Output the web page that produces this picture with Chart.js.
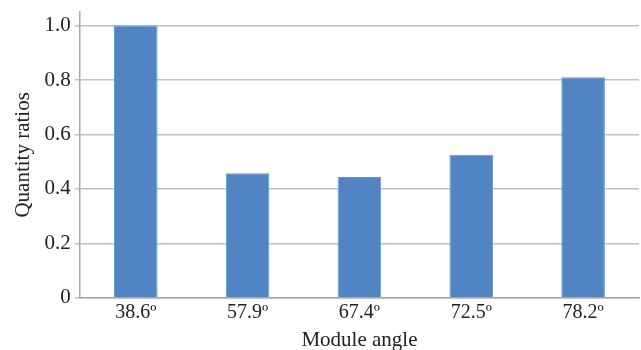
<!DOCTYPE html>
<html>
<head>
<meta charset="utf-8">
<script src="https://cdn.jsdelivr.net/npm/chart.js@4/dist/chart.umd.min.js"></script>
<style>
html,body{margin:0;padding:0;background:#fff;}
#wrap{width:641px;height:350px;}
</style>
</head>
<body>
<div id="wrap"><canvas id="c" width="641" height="350"></canvas></div>
<script>
const categories = ['38.6º', '57.9º', '67.4º', '72.5º', '78.2º'];
const quantityRatios = [1.0, 0.458, 0.444, 0.526, 0.81];
const yTickValues = [0, 0.2, 0.4, 0.6, 0.8, 1.0];
const xTitle = 'Module angle';
const yTitle = 'Quantity ratios';

const serif = '"Liberation Serif", "Times New Roman", serif';
new Chart(document.getElementById('c'), {
  type: 'bar',
  data: {
    labels: categories,
    datasets: [{
      data: quantityRatios,
      backgroundColor: '#5283c2',
      borderColor: '#6a96cc',
      borderWidth: 1,
      barPercentage: 0.39,
      categoryPercentage: 1.0
    }]
  },
  options: {
    responsive: false,
    animation: false,
    layout: { padding: { top: 12, right: 2, left: 4, bottom: -3 } },
    plugins: { legend: { display: false }, tooltip: { enabled: false } },
    scales: {
      x: {
        grid: { display: false, drawTicks: false },
        border: { display: true, color: '#a8a8a8', width: 1.5 },
        ticks: { color: '#222', font: { family: serif, size: 20 }, padding: 3, maxRotation: 0 },
        title: { display: true, text: xTitle, color: '#222', font: { family: serif, size: 21 }, padding: { top: 0, bottom: 0 } }
      },
      y: {
        min: 0,
        max: 1.05,
        afterBuildTicks: (axis) => { axis.ticks = yTickValues.map(v => ({ value: v })); },
        afterFit: (scale) => { scale.paddingTop = 0; scale.paddingBottom = 0; },
        grid: { color: '#c0c0c0', lineWidth: 1.5, tickLength: 5, drawOnChartArea: true },
        border: { display: true, color: '#a8a8a8', width: 1.5 },
        ticks: {
          color: '#222', font: { family: serif, size: 21 }, padding: 4,
          callback: (v) => v === 0 ? '0' : Number(v).toFixed(1)
        },
        title: { display: true, text: yTitle, color: '#222', font: { family: serif, size: 21 }, padding: { top: 6.4, bottom: 5 } }
      }
    }
  }
});
</script>
</body>
</html>
